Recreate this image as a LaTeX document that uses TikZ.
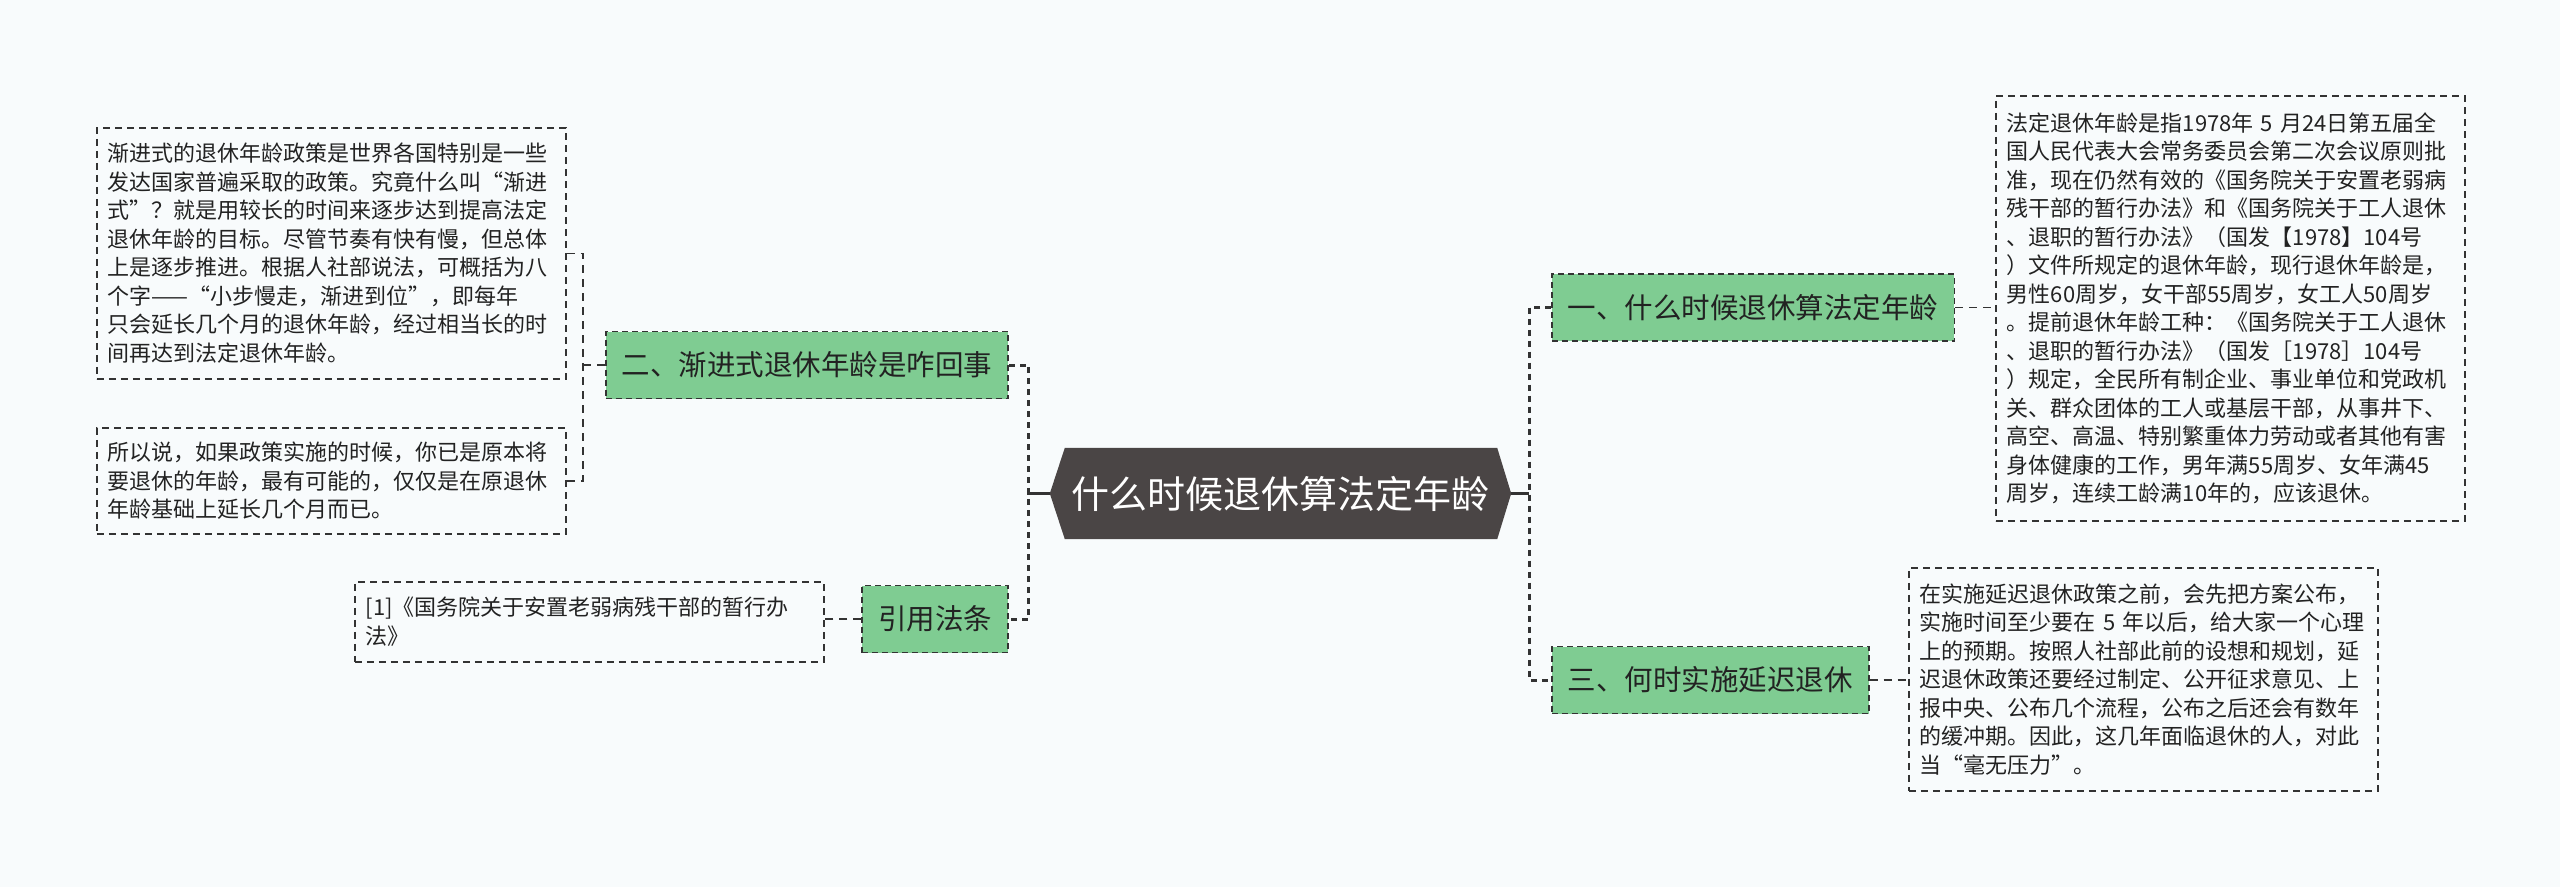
\documentclass[tikz,border=0pt]{standalone}
\usepackage{fontspec}
\setmainfont{Noto Sans CJK SC}
\usepackage{xcolor}
\usepackage{tikz}
\usetikzlibrary{calc,backgrounds}
\definecolor{mapgreen}{HTML}{7FCC92}
\definecolor{mapdark}{HTML}{4A4545}
\definecolor{mapline}{HTML}{333333}
\definecolor{maptext}{HTML}{222222}
\definecolor{mapbg}{HTML}{F8FBFC}

\begin{document}
\begin{tikzpicture}[
    x=1pt,y=-1pt,
    root/.style  = {text=white,font=\fontsize{38}{40}\selectfont,
                    minimum width=461pt,minimum height=91pt,inner sep=0pt},
    topic/.style = {fill=mapgreen,draw=mapline,line width=1.6pt,
                    dash pattern=on 6pt off 4pt,text=maptext,
                    font=\fontsize{28.5}{30}\selectfont,
                    inner xsep=16pt,inner ysep=0pt,minimum height=67pt},
    note/.style  = {draw=mapline,line width=1.6pt,dash pattern=on 7pt off 5pt,
                    text=maptext,font=\fontsize{22}{28.5}\selectfont,
                    text width=447pt,align=left,inner xsep=11pt,inner ysep=0pt,
                    anchor=north west},
    stem/.style  = {draw=mapline,line width=3pt},
    trunk/.style = {draw=mapline,line width=3pt,dash pattern=on 6pt off 5pt},
    leaf/.style  = {draw=mapline,line width=1.6pt,dash pattern=on 8pt off 6pt},
  ]
  \useasboundingbox (0,0) rectangle (2560,887);

  % Centre
  \node[root] (root) at (1280.5,493.5) {什么时候退休算法定年龄};

  % Branches
  \node[topic,anchor=west] (t1) at (1551,307.5) {一、什么时候退休算法定年龄};
  \node[topic,anchor=west] (t3) at (1551,680) {三、何时实施延迟退休};
  \node[topic,anchor=east] (t2) at (1009,365) {二、渐进式退休年龄是咋回事};
  \node[topic,anchor=east] (tcite) at (1009,619) {引用法条};

  % Notes
  \node[note,minimum height=251pt] (nA) at (96,127)
       {渐进式的退休年龄政策是世界各国特别是一些\\
        发达国家普遍采取的政策。究竟什么叫“渐进\\
        式”？就是用较长的时间来逐步达到提高法定\\
        退休年龄的目标。尽管节奏有快有慢，但总体\\
        上是逐步推进。根据人社部说法，可概括为八\\
        个字——“小步慢走，渐进到位”，即每年\\
        只会延长几个月的退休年龄，经过相当长的时\\
        间再达到法定退休年龄。};
  \node[note,minimum height=106pt] (nB) at (96,427)
       {所以说，如果政策实施的时候，你已是原本将\\
        要退休的年龄，最有可能的，仅仅是在原退休\\
        年龄基础上延长几个月而已。};
  \node[note,minimum height=80pt] (nC) at (354,581)
       {[1]《国务院关于安置老弱病残干部的暂行办\\
        法》};
  \node[note,minimum height=425pt] (nE) at (1995,95)
       {法定退休年龄是指1978年 5 月24日第五届全\\
        国人民代表大会常务委员会第二次会议原则批\\
        准，现在仍然有效的《国务院关于安置老弱病\\
        残干部的暂行办法》和《国务院关于工人退休\\
        、退职的暂行办法》（国发【1978】104号\\
        ）文件所规定的退休年龄，现行退休年龄是，\\
        男性60周岁，女干部55周岁，女工人50周岁\\
        。提前退休年龄工种：《国务院关于工人退休\\
        、退职的暂行办法》（国发［1978］104号\\
        ）规定，全民所有制企业、事业单位和党政机\\
        关、群众团体的工人或基层干部，从事井下、\\
        高空、高温、特别繁重体力劳动或者其他有害\\
        身体健康的工作，男年满55周岁、女年满45\\
        周岁，连续工龄满10年的，应该退休。};
  \node[note,minimum height=223pt] (nD) at (1908,567)
       {在实施延迟退休政策之前，会先把方案公布，\\
        实施时间至少要在 5 年以后，给大家一个心理\\
        上的预期。按照人社部此前的设想和规划，延\\
        迟退休政策还要经过制定、公开征求意见、上\\
        报中央、公布几个流程，公布之后还会有数年\\
        的缓冲期。因此，这几年面临退休的人，对此\\
        当“毫无压力”。};

  % Connectors
  \coordinate (lj) at ($(root.west)+(-21,0)$);
  \coordinate (rj) at ($(root.east)+(18,0)$);
  \coordinate (aj) at ($(t2.west)+(-22,0)$);
  \draw[stem] (root.west) -- (lj);
  \draw[stem] (root.east) -- (rj);
  \draw[trunk] (t2.east) -| (lj) |- (tcite.east);
  \draw[trunk] (t1.west) -| (rj) |- (t3.west);
  \draw[leaf] (t2.west) -- (aj);
  \draw[leaf] (nA.east) -| (aj) |- (nB.east);
  \draw[leaf] (tcite.west) -- (tcite.west -| nC.east);
  \draw[leaf] (t1.east) -- (t1.east -| nE.west);
  \draw[leaf] (t3.east) -- (t3.east -| nD.west);

  \begin{scope}[on background layer]
    \fill[mapbg] (0,0) rectangle (2560,887);
    \fill[mapdark] (root.west) -- ($(root.north west)+(15,0)$)
      -- ($(root.north east)+(-14,0)$) -- (root.east)
      -- ($(root.south east)+(-14,0)$) -- ($(root.south west)+(15,0)$) -- cycle;
  \end{scope}
\end{tikzpicture}
\end{document}
